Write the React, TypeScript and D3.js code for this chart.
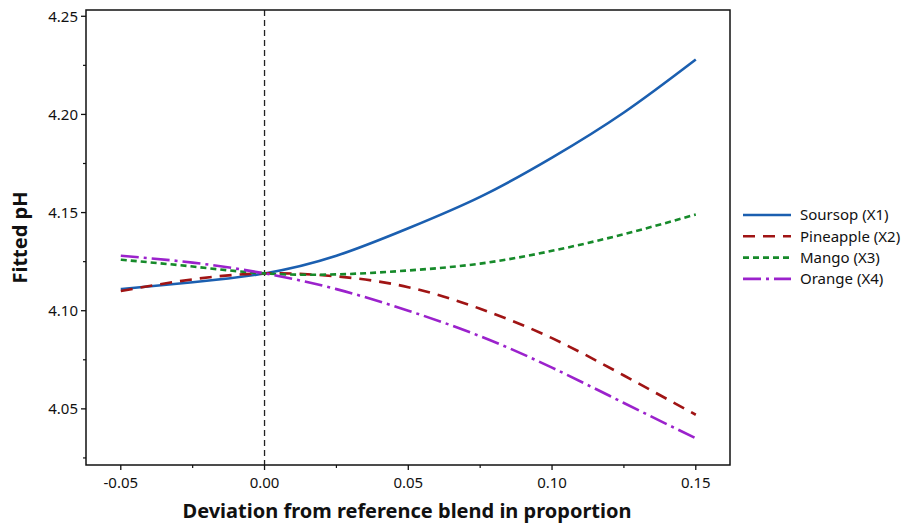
import * as d3 from 'd3';
import React from 'react';

// deviation from reference blend (x) and fitted pH for each component
const deviation = [-0.05, -0.025, 0, 0.025, 0.05, 0.075, 0.1, 0.125, 0.15];
const soursop = [4.111, 4.1145, 4.119, 4.128, 4.142, 4.158, 4.178, 4.201, 4.228];
const pineapple = [4.11, 4.116, 4.119, 4.1175, 4.112, 4.101, 4.086, 4.067, 4.047];
const mango = [4.126, 4.1225, 4.119, 4.1185, 4.1205, 4.124, 4.1305, 4.139, 4.149];
const orange = [4.128, 4.1245, 4.119, 4.111, 4.1, 4.087, 4.071, 4.053, 4.035];

const seriesNames = ['Soursop (X1)', 'Pineapple (X2)', 'Mango (X3)', 'Orange (X4)'];
const xTicks = [-0.05, 0, 0.05, 0.1, 0.15];
const xMinor = [-0.025, 0.025, 0.075, 0.125];
const yTicks = [4.05, 4.1, 4.15, 4.2, 4.25];
const yMinor = [4.025, 4.075, 4.125, 4.175, 4.225];

const colors = ['#1b5fb0', '#a01414', '#168a2a', '#9b22cc'];
const dashes = ['none', '12 8', '6 4', '18 5 3 5'];

const font = "'Noto Sans', 'Open Sans', sans-serif";

export default function App() {
  const left = 86, right = 730, top = 10, bottom = 465;
  const x = d3.scaleLinear().domain([-0.0621, 0.1619]).range([left, right]);
  const y = d3.scaleLinear().domain([4.0214, 4.2532]).range([bottom, top]);

  const all = [soursop, pineapple, mango, orange];
  const line = d3
    .line<number>()
    .x((d, i) => x(deviation[i]))
    .y((d) => y(d))
    .curve(d3.curveNatural);

  return (
    <svg width={908} height={525} style={{ position: 'absolute', left: 0, top: 0 }}>
      <rect x={0} y={0} width={908} height={525} fill="#fff" />

      {/* reference line */}
      <line x1={x(0)} x2={x(0)} y1={top} y2={bottom} stroke="#222" strokeWidth={1.3} strokeDasharray="6 4" />

      {all.map((s, k) => (
        <path
          key={k}
          d={line(s) || ''}
          fill="none"
          stroke={colors[k]}
          strokeWidth={2.6}
          strokeDasharray={dashes[k]}
        />
      ))}

      {/* frame */}
      <rect x={left} y={top} width={right - left} height={bottom - top} fill="none" stroke="#111" strokeWidth={1.5} />

      {/* y axis */}
      {yTicks.map((t) => (
        <g key={t}>
          <line x1={left - 5} x2={left} y1={y(t)} y2={y(t)} stroke="#111" strokeWidth={1.3} />
          <text x={left - 8} y={y(t)} dy="0.35em" textAnchor="end" fontFamily={font} fontSize={15} fill="#111">
            {t.toFixed(2)}
          </text>
        </g>
      ))}
      {yMinor.map((t) => (
        <line key={t} x1={left - 3} x2={left} y1={y(t)} y2={y(t)} stroke="#111" strokeWidth={1.2} />
      ))}

      {/* x axis */}
      {xTicks.map((t) => (
        <g key={t}>
          <line x1={x(t)} x2={x(t)} y1={bottom} y2={bottom + 5} stroke="#111" strokeWidth={1.3} />
          <text x={x(t)} y={bottom + 23} textAnchor="middle" fontFamily={font} fontSize={15} fill="#111">
            {t.toFixed(2)}
          </text>
        </g>
      ))}
      {xMinor.map((t) => (
        <line key={t} x1={x(t)} x2={x(t)} y1={bottom} y2={bottom + 3} stroke="#111" strokeWidth={1.2} />
      ))}

      <text
        x={(left + right) / 2 - 1}
        y={518}
        textAnchor="middle"
        fontFamily={font}
        fontSize={20}
        fontWeight="bold"
        fill="#111"
      >
        Deviation from reference blend in proportion
      </text>
      <text
        transform={`translate(27, ${(top + bottom) / 2}) rotate(-90)`}
        textAnchor="middle"
        fontFamily={font}
        fontSize={20}
        fontWeight="bold"
        fill="#111"
      >
        Fitted pH
      </text>

      {/* legend */}
      {seriesNames.map((n, k) => (
        <g key={n} transform={`translate(743, ${215 + k * 21.3})`}>
          <line x1={0} x2={48} y1={0} y2={0} stroke={colors[k]} strokeWidth={2.6} strokeDasharray={dashes[k]} />
          <text x={57} y={0} dy="0.35em" fontFamily={font} fontSize={15} fill="#111">
            {n}
          </text>
        </g>
      ))}
    </svg>
  );
}
